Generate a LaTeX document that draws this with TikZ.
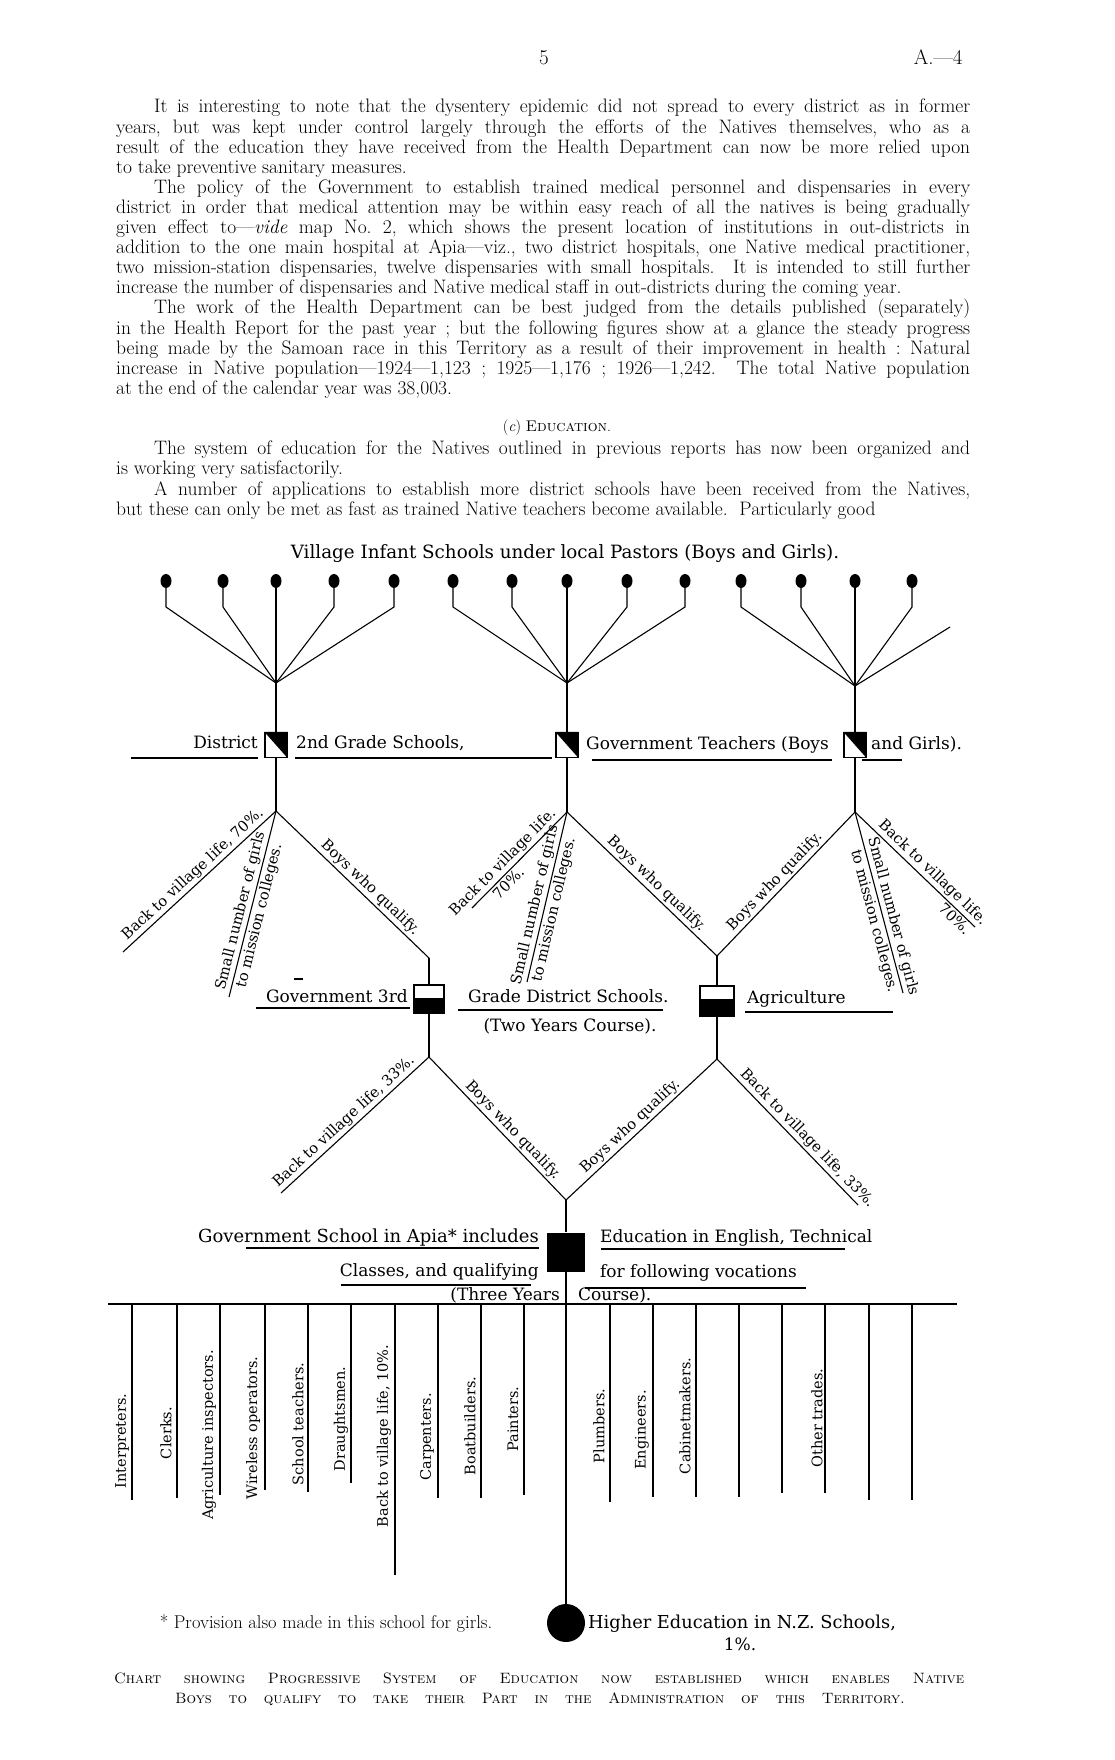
\documentclass[tikz,border=0pt]{standalone}
\usepackage{fontspec}
\newfontfamily\diagfont{DejaVu Serif}
\usetikzlibrary{shapes.geometric, positioning, calc}
\tolerance=9999
\hbadness=10000
\begin{document}
\begin{tikzpicture}[x=1pt, y=-1pt,
  body/.style={anchor=base west, inner sep=0pt, text width=854pt, align=justify,
    font=\fontsize{19.5}{20.1}\selectfont},
  lbl/.style={inner sep=0pt, font=\diagfont\fontsize{17}{20}\selectfont},
  slbl/.style={inner sep=2pt, sloped, font=\diagfont\fontsize{14.8}{16}\selectfont},
  voc/.style={inner sep=0pt, rotate=90, font=\diagfont\fontsize{14.5}{16}\selectfont},
  conn/.style={line width=1.1pt},
  uline/.style={line width=1.8pt},
  dotn/.style={ellipse, fill=black, minimum width=11pt, minimum height=14pt, inner sep=0pt},
  dbox/.style={rectangle, draw, line width=1.1pt, fill=white, minimum width=22pt,
    minimum height=25pt, inner sep=0pt},
  hbox/.style={rectangle, draw, line width=1.1pt, fill=white, minimum width=30pt,
    minimum height=28pt, inner sep=0pt},
]
  \useasboundingbox (0,0) rectangle (1114,1760);

  \node[anchor=base, font=\fontsize{21}{24}\selectfont] (pgno) at (544,65) {5};
  \node[anchor=base east, font=\fontsize{21}{24}\selectfont] (docno) at (966,65) {A.—4};

  \node[body] (para1) at (116,113) {\frenchspacing\hspace*{38pt}It is interesting to note that the dysentery epidemic did not spread to every district as in former\linebreak
    years, but was kept under control largely through the efforts of the Natives themselves, who as a\linebreak
    result of the education they have received from the Health Department can now be more relied upon\linebreak
    to take preventive sanitary measures.\par
    \hspace*{38pt}The policy of the Government to establish trained medical personnel and dispensaries in every\linebreak
    district in order that medical attention may be within easy reach of all the natives is being gradually\linebreak
    given effect to—\emph{vide} map No.~2, which shows the present location of institutions in out-districts in\linebreak
    addition to the one main hospital at Apia—viz., two district hospitals, one Native medical practitioner,\linebreak
    two mission-station dispensaries, twelve dispensaries with small hospitals.\ \ It is intended to still further\linebreak
    increase the number of dispensaries and Native medical staff in out-districts during the coming year.\par
    \hspace*{38pt}The work of the Health Department can be best judged from the details published (separately)\linebreak
    in the Health Report for the past year ; but the following figures show at a glance the steady progress\linebreak
    being made by the Samoan race in this Territory as a result of their improvement in health : Natural\linebreak
    increase in Native population—1924—1,123 ; 1925—1,176 ; 1926—1,242.\ \ The total Native population\linebreak
    at the end of the calendar year was 38,003.};

  \node[anchor=base, font=\fontsize{15.5}{20}\selectfont] (head) at (557,431) {(\emph{c}) \textsc{Education}.};

  \node[body, font=\fontsize{19.5}{20.6}\selectfont] (para2) at (116,454) {\frenchspacing\hspace*{38pt}The system of education for the Natives outlined in previous reports has now been organized and\linebreak
    is working very satisfactorily.\par
    \parfillskip=0pt \hspace*{38pt}A number of applications to establish more district schools have been received from the Natives,\linebreak
    but these can only be met as fast as trained Native teachers become available.\ \ Particularly good};

  \node[lbl, anchor=base, font=\diagfont\fontsize{18.3}{20}\selectfont] (title) at (565,558) {Village Infant Schools under local Pastors (Boys and Girls).};

  \coordinate (ca) at (276,683);
  \coordinate (cb) at (567,683);
  \coordinate (cc) at (855,686);
  \foreach \x [count=\i] in {166,223,276,334,394} {
    \node[dotn] (a\i) at (\x,581) {};
    \draw[conn] (a\i) -- (\x,607) -- (ca);
  }
  \foreach \x [count=\i] in {453,512,567,627,685} {
    \node[dotn] (b\i) at (\x,581) {};
    \draw[conn] (b\i) -- (\x,607) -- (cb);
  }
  \foreach \x [count=\i] in {741,801,855,912} {
    \node[dotn] (c\i) at (\x,581) {};
    \draw[conn] (c\i) -- (\x,607) -- (cc);
  }
  \coordinate (cx) at (950,627);
  \draw[conn] (cc) -- (cx);

  \node[dbox] (da) at (276,745) {};
  \node[dbox] (db) at (567,745) {};
  \node[dbox] (dc) at (855,745) {};
  \foreach \n in {da,db,dc}
    \fill (\n.north west) -- (\n.north east) -- (\n.south east) -- cycle;
  \coordinate (fa) at (276,811);
  \coordinate (fb) at (567,812);
  \coordinate (fc) at (855,812);
  \draw[conn] (ca) -- (da) -- (fa);
  \draw[conn] (cb) -- (db) -- (fb);
  \draw[conn] (cc) -- (dc) -- (fc);

  \node[lbl, anchor=base east] (dist) at (258,748) {District};
  \node[lbl, anchor=base west] (grade2) at (296,748) {2nd Grade Schools,};
  \node[lbl, anchor=base west] (govt) at (586,749) {Government Teachers (Boys};
  \node[lbl, anchor=base west] (girls) at (871,749) {and Girls).};
  \draw[uline] (131,758) -- (258,758);
  \draw[uline] (295,758) -- (552,758);
  \draw[uline] (592,760) -- (832,760);
  \draw[uline] (862,760) -- (902,760);

  \coordinate (ea1) at (123,952);
  \coordinate (ea2) at (229,997);
  \coordinate (ka) at (429,958);
  \draw[conn] (fa) -- node[slbl, above, pos=0.5] (la1) {Back to village life, 70\%.} (ea1);
  \draw[conn] (fa) -- node[slbl, above, pos=0.55] (la2) {Small number of girls}
    node[slbl, below, pos=0.55] (la3) {to mission colleges.} (ea2);
  \draw[conn] (fa) -- node[slbl, above, pos=0.57] (la4) {Boys who qualify.} (ka);

  \coordinate (eb1) at (472,908);
  \coordinate (eb2) at (527,982);
  \coordinate (vb) at (717,956);
  \draw[conn] (fb) -- node[slbl, above, pos=0.6] (lb1) {Back to village life.}
    node[slbl, below, pos=0.68] (lb2) {70\%.} (eb1);
  \draw[conn] (fb) -- node[slbl, above, pos=0.56] (lb3) {Small number of girls}
    node[slbl, below, pos=0.56] (lb4) {to mission colleges.} (eb2);
  \draw[conn] (fb) -- node[slbl, above, pos=0.55] (lb5) {Boys who qualify.} (vb);

  \coordinate (ec1) at (975,927);
  \coordinate (ec2) at (903,993);
  \draw[conn] (fc) -- node[slbl, above, pos=0.53] (lc1) {Boys who qualify.} (vb);
  \draw[conn] (fc) -- node[slbl, above, pos=0.59] (lc2) {Small number of girls}
    node[slbl, below, pos=0.59] (lc3) {to mission colleges.} (ec2);
  \draw[conn] (fc) -- node[slbl, above, pos=0.59] (lc4) {Back to village life.}
    node[slbl, below, pos=0.88] (lc5) {70\%.} (ec1);

  \node[hbox] (ha) at (429,999) {};
  \node[hbox, minimum width=34pt, minimum height=30pt] (hb) at (717,1001) {};
  \foreach \n in {ha,hb}
    \fill ($(\n.south west)!0.55!(\n.north west)$) rectangle (\n.south east);
  \draw[conn] (ka) -- (ha);
  \draw[conn] (vb) -- (hb);

  \node[lbl, anchor=base east] (gov3) at (408,1002) {Government 3rd};
  \node[lbl, anchor=base west] (grade3) at (468,1002) {Grade District Schools.};
  \node[lbl, anchor=base] (twoyr) at (570,1031) {(Two Years Course).};
  \node[lbl, anchor=base west] (agri) at (747,1003) {Agriculture};
  \draw[uline] (256,1008) -- (410,1008);
  \draw[uline] (458,1010) -- (663,1010);
  \draw[uline] (745,1012) -- (893,1012);
  \draw[line width=1.2pt] (294,979) -- (303,979);

  \coordinate (ga) at (429,1057);
  \coordinate (gb) at (717,1059);
  \draw[conn] (ha) -- (ga);
  \draw[conn] (hb) -- (gb);
  \coordinate (ra) at (281,1193);
  \coordinate (vm) at (566,1200);
  \coordinate (rb) at (858,1205);
  \draw[conn] (ga) -- node[slbl, above, pos=0.53] (ld1) {Back to village life, 33\%.} (ra);
  \draw[conn] (ga) -- node[slbl, above, pos=0.56] (ld2) {Boys who qualify.} (vm);
  \draw[conn] (gb) -- node[slbl, above, pos=0.53] (ld3) {Boys who qualify.} (vm);
  \draw[conn] (gb) -- node[slbl, above, pos=0.59] (ld4) {Back to village life, 33\%.} (rb);

  \node[rectangle, fill=black, minimum width=38pt, minimum height=39pt, inner sep=0pt] (apia) at (566,1252) {};
  \draw[conn] (vm) -- (apia);
  \node[lbl, anchor=base east, font=\diagfont\fontsize{18}{20}\selectfont] (apia1) at (539,1242) {Government School in Apia* includes};
  \node[lbl, anchor=base east] (apia2) at (539,1276) {Classes, and qualifying};
  \node[lbl, anchor=base east] (apia3) at (560,1300) {(Three Years};
  \node[lbl, anchor=base west] (eng1) at (600,1242) {Education in English, Technical};
  \node[lbl, anchor=base west] (eng2) at (600,1277) {for following vocations};
  \node[lbl, anchor=base west] (eng3) at (578,1300) {Course).};
  \draw[uline] (246,1248) -- (539,1248);
  \draw[uline] (341,1285) -- (531,1285);
  \draw[uline] (601,1249) -- (845,1249);
  \draw[uline] (585,1288) -- (806,1288);

  \coordinate (hl) at (108,1304);
  \coordinate (hr) at (957,1304);
  \draw[conn, line width=1.5pt] (hl) -- (hr);
  \foreach \x/\b in {132/1500, 177/1498, 220/1495, 265/1490, 308/1492, 351/1483, 395/1575,
    438/1498, 481/1498, 524/1495, 610/1502, 653/1497, 696/1497, 739/1497, 782/1493,
    825/1493, 869/1500, 912/1500}
    \draw[conn] (\x,1304) -- (\x,\b);
  \foreach \x/\y/\t [count=\i] in {122/1441/Interpreters., 166/1433/Clerks.,
    209/1435/Agriculture inspectors., 253/1428/Wireless operators.,
    298/1424/School teachers., 341/1419/Draughtsmen.,
    384/1436/{Back to village life, 10\%.}, 427/1437/Carpenters.,
    470/1426/Boatbuilders., 513/1419/Painters., 599/1426/Plumbers.,
    642/1430/Engineers., 685/1416/Cabinetmakers., 817/1418/Other trades.}
    \node[voc] (v\i) at (\x,\y) {\t};

  \node[circle, fill=black, minimum size=38pt, inner sep=0pt] (hied) at (566,1623) {};
  \draw[conn] (apia) -- (hied);
  \node[anchor=base, font=\fontsize{18.5}{20}\selectfont] (prov) at (326,1628) {* Provision also made in this school for girls.};
  \node[lbl, anchor=base west, font=\diagfont\fontsize{17.8}{20}\selectfont] (nz) at (588,1628) {Higher Education in N.Z. Schools,};
  \node[lbl, anchor=base] (pct) at (740,1650) {1\%.};

  \node[anchor=base west, inner sep=0pt, font=\fontsize{15}{18}\selectfont] (cap1) at (114,1683)
    {\makebox[850pt][s]{\scshape Chart showing Progressive System of Education now established which enables Native}};
  \node[anchor=base, inner sep=0pt, font=\fontsize{15}{18}\selectfont] (cap2) at (540,1703)
    {\makebox[730pt][s]{\scshape Boys to qualify to take their Part in the Administration of this Territory.}};
\end{tikzpicture}
\end{document}
